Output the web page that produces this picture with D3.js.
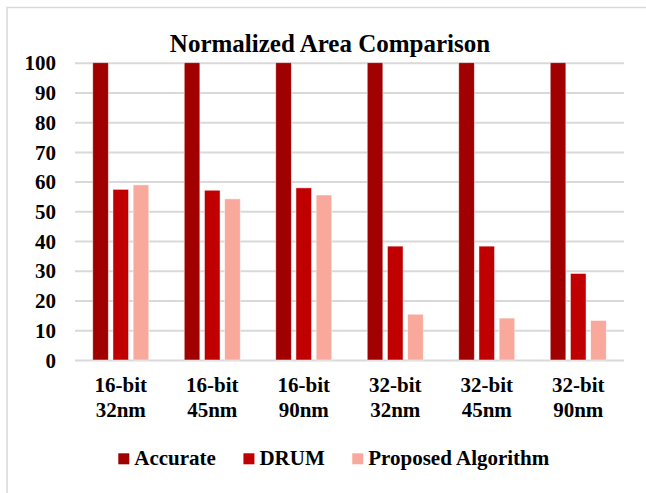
<!DOCTYPE html>
<html>
<head>
<meta charset="utf-8">
<script src="https://cdn.jsdelivr.net/npm/d3@7"></script>
</head>
<body style="margin:0">
<svg id="chart" width="646" height="493" style="display:block"></svg>
<script>
const title = "Normalized Area Comparison";
const categories = ["16-bit|32nm", "16-bit|45nm", "16-bit|90nm", "32-bit|32nm", "32-bit|45nm", "32-bit|90nm"];
const seriesNames = ["Accurate", "DRUM", "Proposed Algorithm"];
const accurate = [100, 100, 100, 100, 100, 100];
const drum = [57.4, 57.1, 57.9, 38.3, 38.3, 29.1];
const proposed = [58.9, 54.2, 55.5, 15.4, 14.1, 13.3];
const yTicks = [0, 10, 20, 30, 40, 50, 60, 70, 80, 90, 100];
const colors = ["#A00000", "#C00000", "#F9A99B"];

const FONT = "'Liberation Serif', 'Times New Roman', Tinos, serif";
const seriesValues = [accurate, drum, proposed];
const rows = categories.map((c, i) => ({cat: c, vals: seriesNames.map((s, j) => ({s, v: seriesValues[j][i], j}))}));

const svg = d3.select("#chart");
const W = 646, H = 493;
const plotL = 75, plotR = 624, plotT = 62.7, plotB = 360;

function fontify(sel, size) {
  sel.attr("font-family", FONT).attr("font-weight", "bold").attr("font-size", size);
  return sel;
}

// frame
svg.append("rect").attr("x", 7).attr("y", 7.5).attr("width", W + 20).attr("height", H + 20)
  .attr("fill", "#fff").attr("stroke", "#d9d9d9").attr("stroke-width", 1.5);

const x0 = d3.scaleBand().domain(categories).range([plotL, plotR]).paddingInner(0).paddingOuter(0);
const groupW = 56;
const off = (x0.bandwidth() - groupW) / 2;
const x1 = d3.scaleBand().domain(seriesNames).range([off, off + groupW]).paddingInner(0.228).paddingOuter(0);
const y = d3.scaleLinear().domain([0, 100]).range([plotB, plotT]);

// y axis + gridlines
const yAxis = svg.append("g").attr("transform", `translate(${plotL},0)`)
  .call(d3.axisLeft(y).tickValues(yTicks).tickSize(-(plotR - plotL)).tickPadding(19).tickFormat(d3.format("d")));
yAxis.attr("font-family", null).attr("font-size", null);
yAxis.select(".domain").remove();
yAxis.selectAll(".tick line").attr("stroke", "#d9d9d9").attr("stroke-width", 2);
fontify(yAxis.selectAll(".tick text"), 21).attr("fill", "#000").attr("dy", "0.34em");

// bars
const groups = svg.append("g").selectAll("g").data(rows).join("g")
  .attr("transform", d => `translate(${x0(d.cat)},0)`);
groups.selectAll("rect").data(d => d.vals).join("rect")
  .attr("x", d => x1(d.s))
  .attr("y", d => y(d.v))
  .attr("width", x1.bandwidth())
  .attr("height", d => y(0) - y(d.v))
  .attr("fill", d => colors[d.j])
  .attr("stroke", "#ffffff").attr("stroke-opacity", 0.6).attr("stroke-width", 0.8);

// x axis
const xAxis = svg.append("g").attr("transform", `translate(0,${plotB})`)
  .call(d3.axisBottom(x0).tickSize(0).tickPadding(0));
xAxis.attr("font-family", null).attr("font-size", null);
xAxis.select(".domain").remove();
xAxis.selectAll(".tick text").each(function(d) {
  const t = d3.select(this);
  const parts = d.split("|");
  t.text(null).attr("y", 0).attr("dy", null).attr("fill", "#000");
  fontify(t, 21);
  t.append("tspan").attr("x", 0).attr("y", 32.3).text(parts[0]);
  t.append("tspan").attr("x", 0).attr("y", 57.3).text(parts[1]);
});

// title
fontify(svg.append("text").attr("x", 330).attr("y", 51.7).attr("text-anchor", "middle"), 25)
  .attr("fill", "#000").text(title);

// legend
const legend = svg.append("g");
const sq = 11, gapSq = 5, gapItem = 27.5;
let lx = 0;
const items = legend.selectAll("g").data(seriesNames).join("g");
items.each(function(s, i) {
  const g = d3.select(this);
  g.append("rect").attr("x", 0).attr("y", 453.3).attr("width", sq).attr("height", sq).attr("fill", colors[i]);
  const t = fontify(g.append("text").attr("x", sq + gapSq).attr("y", 465), 21).attr("fill", "#000").text(s);
  const w = t.node().getComputedTextLength();
  g.attr("transform", `translate(${lx},0)`);
  lx += sq + gapSq + w + gapItem;
});
const totalW = lx - gapItem;
legend.attr("transform", `translate(${333.8 - totalW / 2},0)`);
</script>
</body>
</html>
